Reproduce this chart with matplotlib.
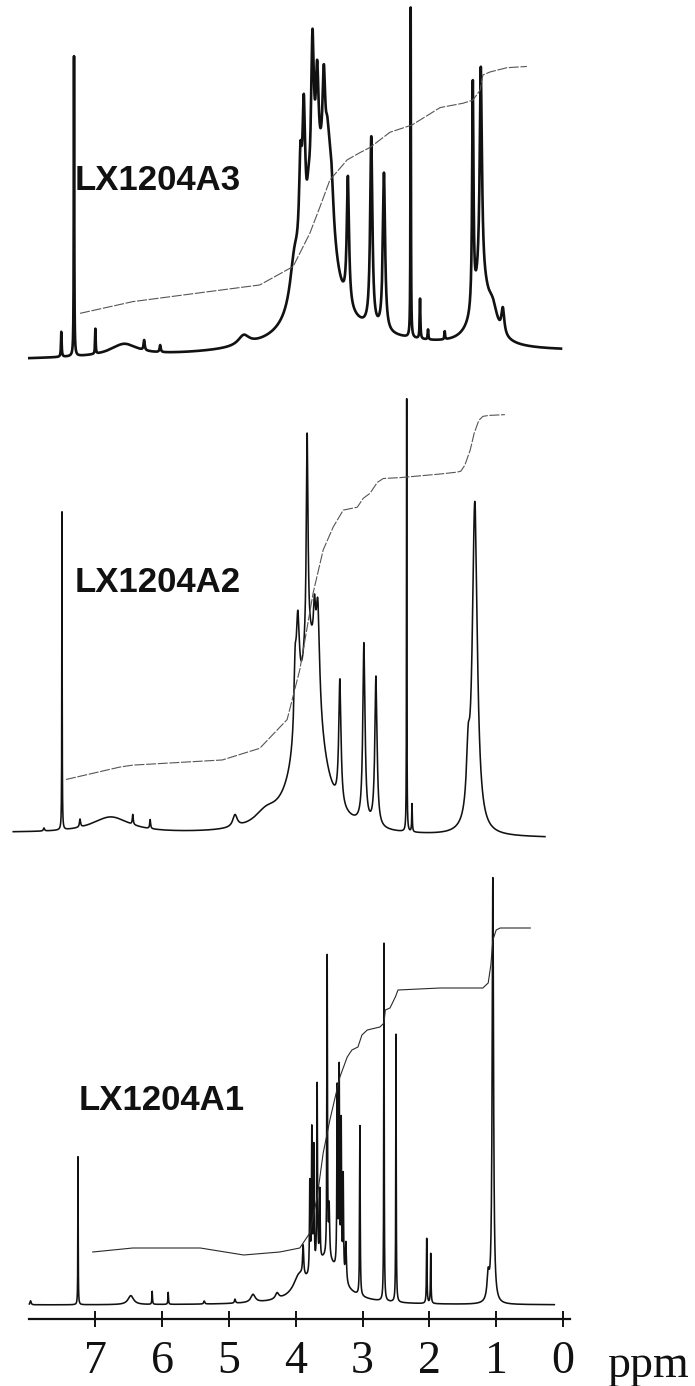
import numpy as np
import matplotlib
matplotlib.use("Agg")
import matplotlib.pyplot as plt

# ---------------- data ----------------
labels = ["LX1204A3", "LX1204A2", "LX1204A1"]
tick_values = [7, 6, 5, 4, 3, 2, 1, 0]
axis_label = "ppm"

# spectral ranges (ppm, left -> right)
a3_range = (7.99, 0.03)
a2_range = (8.23, 0.27)
a1_range = (7.99, 0.13)

# peak lists: position (ppm), height, half width (ppm)
a3_pos = [7.51, 7.32, 7.00, 6.57, 6.27, 6.03, 4.78, 3.00,
          3.66, 4.02, 3.50, 3.93, 3.88, 3.81, 3.75, 3.68, 3.58, 3.53, 3.46,
          3.22, 2.87, 2.68, 2.28, 2.14, 2.02, 1.77,
          1.22, 1.35, 1.23, 1.05, 0.90]
a3_height = [25, 300, 25, 12, 10, 7, 10, 14,
             150, 45, 80, 90, 135, 20, 155, 95, 95, 20, 20,
             128, 190, 158, 330, 40, 10, 8,
             60, 225, 215, 20, 25]
a3_width = [0.006, 0.004, 0.005, 0.25, 0.01, 0.01, 0.10, 1.4,
            0.22, 0.08, 0.07, 0.025, 0.025, 0.025, 0.025, 0.025, 0.025, 0.025, 0.025,
            0.02, 0.02, 0.02, 0.004, 0.006, 0.006, 0.006,
            0.15, 0.012, 0.02, 0.08, 0.025]

a2_pos = [7.77, 7.50, 7.23, 6.77, 6.44, 6.18, 4.91, 4.45,
          3.80, 4.01, 3.97, 3.83, 3.72, 3.67,
          3.34, 2.98, 2.80, 2.34, 2.26, 1.42, 1.32]
a2_height = [3, 318, 8, 16, 10, 9, 12, 12,
             185, 60, 100, 210, 50, 95,
             125, 180, 150, 433, 28, 55, 330]
a2_width = [0.01, 0.003, 0.01, 0.35, 0.008, 0.008, 0.04, 0.2,
            0.20, 0.02, 0.03, 0.015, 0.02, 0.03,
            0.02, 0.02, 0.02, 0.003, 0.005, 0.03, 0.045]

a1_pos = [7.97, 7.26, 6.47, 6.15, 5.91, 5.37, 4.91, 4.64, 4.28,
          3.95, 3.55, 3.89, 3.79, 3.76, 3.73, 3.68, 3.64, 3.53, 3.50,
          3.38, 3.35, 3.32, 3.29, 3.25,
          3.04, 2.68, 2.50, 2.04, 1.98, 1.12, 1.05]
a1_height = [4, 148, 9, 13, 12, 3, 4, 8, 6,
             18, 45, 30, 90, 140, 120, 180, 70, 300, 50,
             180, 200, 150, 100, 40,
             170, 358, 268, 65, 50, 25, 425]
a1_width = [0.01, 0.003, 0.05, 0.005, 0.005, 0.01, 0.01, 0.04, 0.03,
            0.10, 0.25, 0.01, 0.006, 0.006, 0.006, 0.006, 0.006, 0.005, 0.008,
            0.006, 0.006, 0.006, 0.006, 0.01,
            0.005, 0.004, 0.004, 0.005, 0.005, 0.02, 0.012]

# integral curves: position (ppm), level above the spectrum baseline
a3_int_ppm = [7.23, 6.44, 5.43, 4.54, 4.04, 3.79, 3.64, 3.49, 3.23, 3.04, 2.89,
              2.69, 2.59, 2.26, 1.84, 1.50, 1.35, 1.24, 1.20, 1.09, 0.84, 0.54]
a3_int_level = [46, 57, 65, 72, 90, 123, 149, 176, 196, 203, 208,
                218, 223, 230, 247, 251, 254, 264, 279, 282, 286, 287]

a2_int_ppm = [7.44, 6.63, 6.44, 5.10, 4.54, 4.13, 3.94, 3.74, 3.59, 3.44, 3.29,
              3.08, 2.99, 2.89, 2.78, 2.69, 2.44, 1.84, 1.59, 1.53, 1.47, 1.39,
              1.33, 1.26, 1.20, 1.12, 0.87]
a2_int_level = [54, 67, 69, 75, 87, 116, 166, 243, 286, 309, 326,
                329, 338, 343, 354, 358, 359, 363, 365, 366, 372, 387,
                404, 417, 421, 422, 423]

a1_int_ppm = [7.04, 6.44, 5.43, 4.78, 4.24, 3.94, 3.79, 3.68, 3.59, 3.49, 3.34,
              3.23, 3.16, 3.07, 3.01, 2.93, 2.74, 2.68, 2.66, 2.59, 2.51, 2.47,
              1.84, 1.20, 1.12, 1.08, 1.05, 1.00, 0.94, 0.49]
a1_int_level = [53, 57, 57, 50, 53, 57, 72, 108, 152, 185, 228,
                248, 255, 258, 270, 275, 278, 282, 295, 297, 308, 315,
                317, 317, 322, 340, 365, 375, 377, 377]

# ---------------- layout (pixels) ----------------
W, H = 695, 1386
PX0, PX_PER_PPM = 563.0, 66.8      # x pixel of 0 ppm, pixels per ppm
baselines = [(360, 353), (833, 838), (1305, 1305)]
label_xy = [(75, 190), (75, 592), (79, 1110)]
spec_lw = [1.9, 1.15, 1.15]
int_style = [(0, (9, 1.5)), (0, (9, 1.5)), "-"]
int_color = ["#555555", "#555555", "#2a2a2a"]

def px2ppm(x):
    return (PX0 - x) / PX_PER_PPM

fig = plt.figure(figsize=(W / 100, H / 100), dpi=100)
ax = fig.add_axes([0, 0, 1, 1])
ax.set_xlim(px2ppm(0), px2ppm(W))
ax.set_ylim(H, 0)
ax.axis("off")

def trace(pos, hgt, wid, rng):
    start, end = rng
    grid = np.arange(end, start, 0.0005)
    grid = np.union1d(grid, [p for p in pos if end <= p <= start])
    y = np.zeros_like(grid)
    for p, h, w in zip(pos, hgt, wid):
        y += h / (1.0 + ((grid - p) / w) ** 2)
    return grid, y

spectra = [
    (a3_pos, a3_height, a3_width, a3_range, a3_int_ppm, a3_int_level),
    (a2_pos, a2_height, a2_width, a2_range, a2_int_ppm, a2_int_level),
    (a1_pos, a1_height, a1_width, a1_range, a1_int_ppm, a1_int_level),
]

for i, (pos, hgt, wid, rng, ip, il) in enumerate(spectra):
    b_left, b_right = baselines[i]
    g, y = trace(pos, hgt, wid, rng)
    base = np.interp(g, [rng[1], rng[0]], [b_right, b_left])
    ax.plot(g, base - y, color="#111111", lw=spec_lw[i], solid_joinstyle="round")
    ip = np.asarray(ip)
    ib = np.interp(ip, [rng[1], rng[0]], [b_right, b_left])
    ax.plot(ip, ib - np.asarray(il), color=int_color[i], lw=0.8,
            linestyle=int_style[i])
    lx, ly = label_xy[i]
    ax.text(lx / W, 1 - ly / H, labels[i], transform=ax.transAxes,
            fontsize=25, fontweight="bold", family="Liberation Sans",
            ha="left", va="baseline", color="#111111")

# ---------------- ppm ruler ----------------
rx0, rx1, ry = 29, 570, 1319
rax = fig.add_axes([rx0 / W, 1 - ry / H, (rx1 - rx0) / W, 0.0005])
rax.set_xlim(px2ppm(rx0), px2ppm(rx1))
rax.set_ylim(0, 1)
rax.patch.set_alpha(0)
for s in ("top", "left", "right"):
    rax.spines[s].set_visible(False)
rax.spines["bottom"].set_linewidth(1.6)
rax.spines["bottom"].set_color("#111111")
rax.set_yticks([])
rax.set_xticks(tick_values)
rax.set_xticklabels([str(t) for t in tick_values], family="Liberation Serif",
                    fontsize=33, color="#111111")
rax.tick_params(axis="x", direction="inout", length=11, width=1.4, pad=10,
                colors="#111111")
ax.text(607 / W, 1 - 1377 / H, axis_label, transform=ax.transAxes,
        family="Liberation Serif", fontsize=33, ha="left", va="baseline",
        color="#111111")

fig.savefig("out.png", dpi=100, facecolor="white")
